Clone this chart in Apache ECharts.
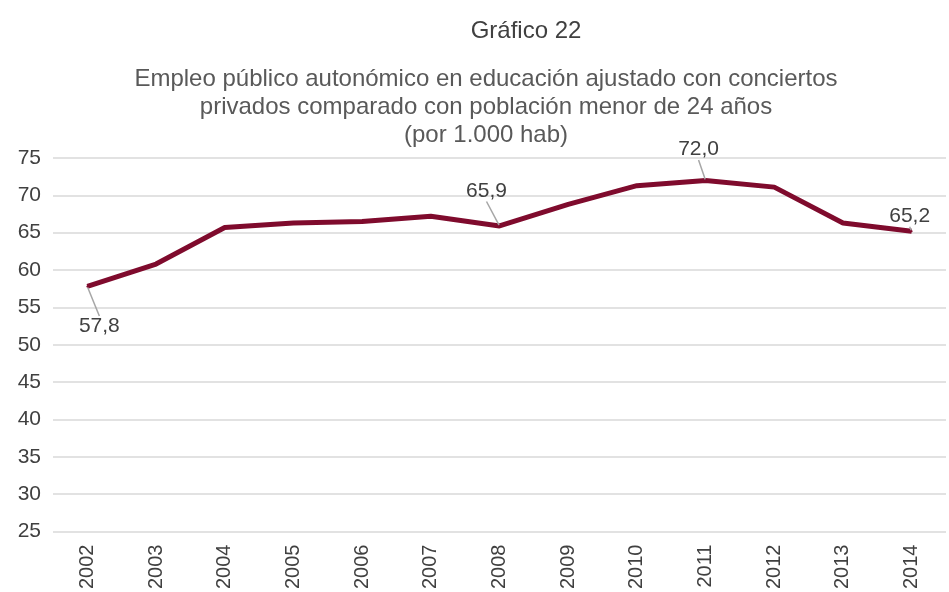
<!DOCTYPE html>
<html lang="es">
<head>
<meta charset="UTF-8">
<title>Gráfico 22</title>
<script src="https://cdn.jsdelivr.net/npm/echarts@6/dist/echarts.min.js"></script>
<style>
  html, body { margin: 0; padding: 0; background: #fff; }
  #chart { width: 949px; height: 592px; }
</style>
</head>
<body>
<div id="chart"></div>
<script>
// datos
var years = ['2002', '2003', '2004', '2005', '2006', '2007', '2008', '2009', '2010', '2011', '2012', '2013', '2014'];
var empleo = [57.8, 60.8, 65.7, 66.3, 66.5, 67.2, 65.9, 68.8, 71.3, 72.0, 71.1, 66.3, 65.2];
var labelled = [0, 6, 9, 12];  // puntos con etiqueta

// desplazamiento de cada etiqueta respecto a su punto
var labelOffset = {
    0: [12, 40],
    6: [-13, -35],
    9: [-7, -31],
    12: [-2, -15]
};

var chart = echarts.init(document.getElementById('chart'));

var seriesData = empleo.map(function (v, i) {
    var show = labelled.indexOf(i) >= 0;
    return {
        value: v,
        label: { show: show }
    };
});

var option = {
    backgroundColor: '#ffffff',
    textStyle: { fontFamily: 'Liberation Sans, Arial, sans-serif' },
    title: [{
        text: 'Gráfico 22',
        left: 521,
        top: 14,
        textAlign: 'center',
        textStyle: { fontSize: 24, fontWeight: 'normal', color: '#404040' }
    }, {
        text: 'Empleo público autonómico en educación ajustado con conciertos\nprivados comparado con población menor de 24 años\n(por 1.000 hab)',
        left: 481,
        top: 60,
        textAlign: 'center',
        textStyle: { fontSize: 24, fontWeight: 'normal', color: '#595959', lineHeight: 28, align: 'center' }
    }],
    grid: {
        left: 53,
        right: 3,
        top: 158,
        bottom: 60,
        containLabel: false
    },
    xAxis: {
        type: 'category',
        data: years,
        boundaryGap: true,
        axisLine: { show: false },
        axisTick: { show: false },
        axisLabel: {
            rotate: 90,
            margin: 13,
            fontSize: 20,
            color: '#404040'
        }
    },
    yAxis: {
        type: 'value',
        min: 25,
        max: 75,
        interval: 5,
        axisLine: { show: false },
        axisTick: { show: false },
        axisLabel: {
            margin: 12,
            fontSize: 21,
            color: '#404040'
        },
        splitLine: { lineStyle: { color: '#d9d9d9', width: 1.5 } }
    },
    series: [{
        type: 'line',
        data: seriesData,
        symbol: 'circle',
        symbolSize: 2,
        showSymbol: true,
        itemStyle: { color: '#7f0b2d' },
        lineStyle: { color: '#7f0b2d', width: 5 },
        label: {
            show: false,
            position: 'inside',
            fontSize: 21,
            color: '#404040',
            formatter: function (p) {
                return p.value.toFixed(1).replace('.', ',');
            }
        },
        labelLine: {
            show: true,
            lineStyle: { color: '#a6a6a6', width: 1.5 }
        },
        labelLayout: function (params) {
            var off = labelOffset[params.dataIndex] || [0, 0];
            return { dx: off[0], dy: off[1] };
        },
        animation: false
    }]
};

chart.setOption(option);
</script>
</body>
</html>
